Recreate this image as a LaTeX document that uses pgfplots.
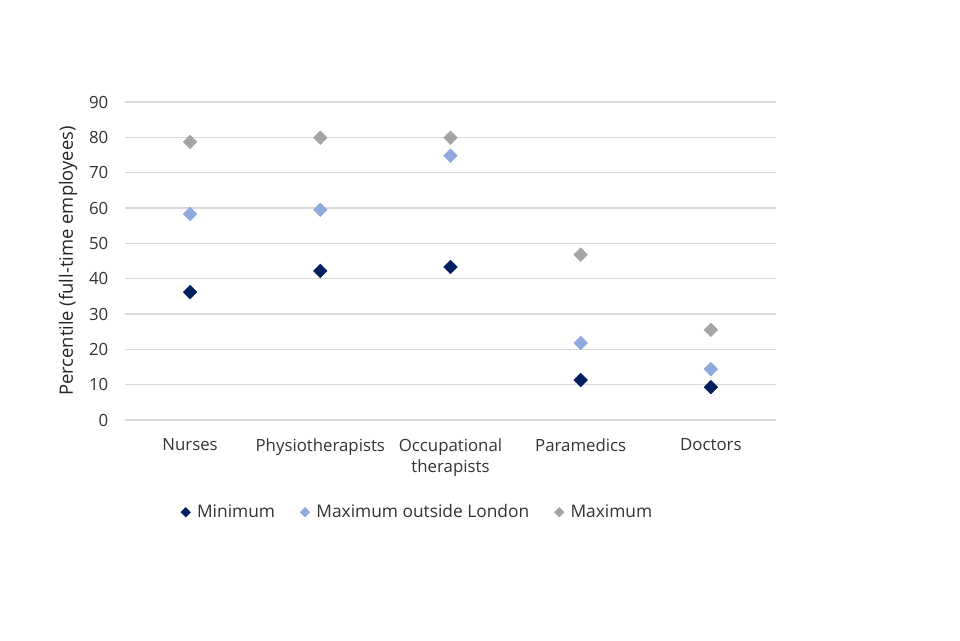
\documentclass[border=0pt]{standalone}
\usepackage{pgfplots}
\pgfplotsset{compat=1.18}
\usepackage{fontspec}
\setmainfont{Open Sans}
\definecolor{cmin}{HTML}{002060}
\definecolor{cmol}{HTML}{8EA9DB}
\definecolor{cmax}{HTML}{A5A5A5}
\definecolor{gridc}{HTML}{D9D9D9}
\begin{document}
\begin{tikzpicture}
\useasboundingbox (0pt,0pt) rectangle (720pt,480pt);
\begin{axis}[
  at={(93.75pt,165pt)}, anchor=south west,
  scale only axis, width=488.25pt, height=238.5pt,
  xmin=-0.5, xmax=4.5, ymin=0, ymax=90,
  ytick={0,10,...,90},
  xtick={0,1,2,3,4},
  xticklabels={Nurses,Physiotherapists,{Occupational\\therapists},Paramedics,Doctors},
  xticklabel style={align=center, font=\fontsize{12.6}{16}\selectfont, color=black!80},
  yticklabel style={font=\fontsize{12.6}{15}\selectfont, color=black!80},
  /pgf/number format/assume math mode=true,
  major tick length=0pt,
  ymajorgrids, grid style={gridc, line width=0.8pt},
  axis x line*=bottom, axis y line*=left,
  x axis line style={gridc, line width=0.8pt, -},
  y axis line style={draw=none},
  ylabel={Percentile (full-time employees)},
  ylabel style={font=\fontsize{13.8}{16}\selectfont, color=black!85, yshift=2pt},
  xticklabel shift=10.5pt, yticklabel shift=9pt,
  legend columns=3,
  legend style={at={(0.45,-0.29)}, anchor=center, draw=none, font=\fontsize{13}{16}\selectfont, text=black!80,
    /tikz/every even column/.append style={column sep=17pt},
    /tikz/every odd column/.append style={column sep=3pt}},
  legend cell align=left,
  legend image code/.code={\draw[#1, mark size=2.5pt] plot coordinates {(0.12cm,0cm)};},
]
\addplot[only marks, mark=square*, mark options={rotate=45, fill=cmin, draw=cmin}, mark size=3.6pt] coordinates {(0,36.2) (1,42.2) (2,43.3) (3,11.3) (4,9.3)};
\addlegendentry{Minimum}
\addplot[only marks, mark=square*, mark options={rotate=45, fill=cmol, draw=cmol}, mark size=3.6pt] coordinates {(0,58.3) (1,59.5) (2,74.8) (3,21.8) (4,14.4)};
\addlegendentry{Maximum outside London}
\addplot[only marks, mark=square*, mark options={rotate=45, fill=cmax, draw=cmax}, mark size=3.6pt] coordinates {(0,78.7) (1,79.9) (2,79.9) (3,46.8) (4,25.5)};
\addlegendentry{Maximum}
\end{axis}
\end{tikzpicture}
\end{document}
